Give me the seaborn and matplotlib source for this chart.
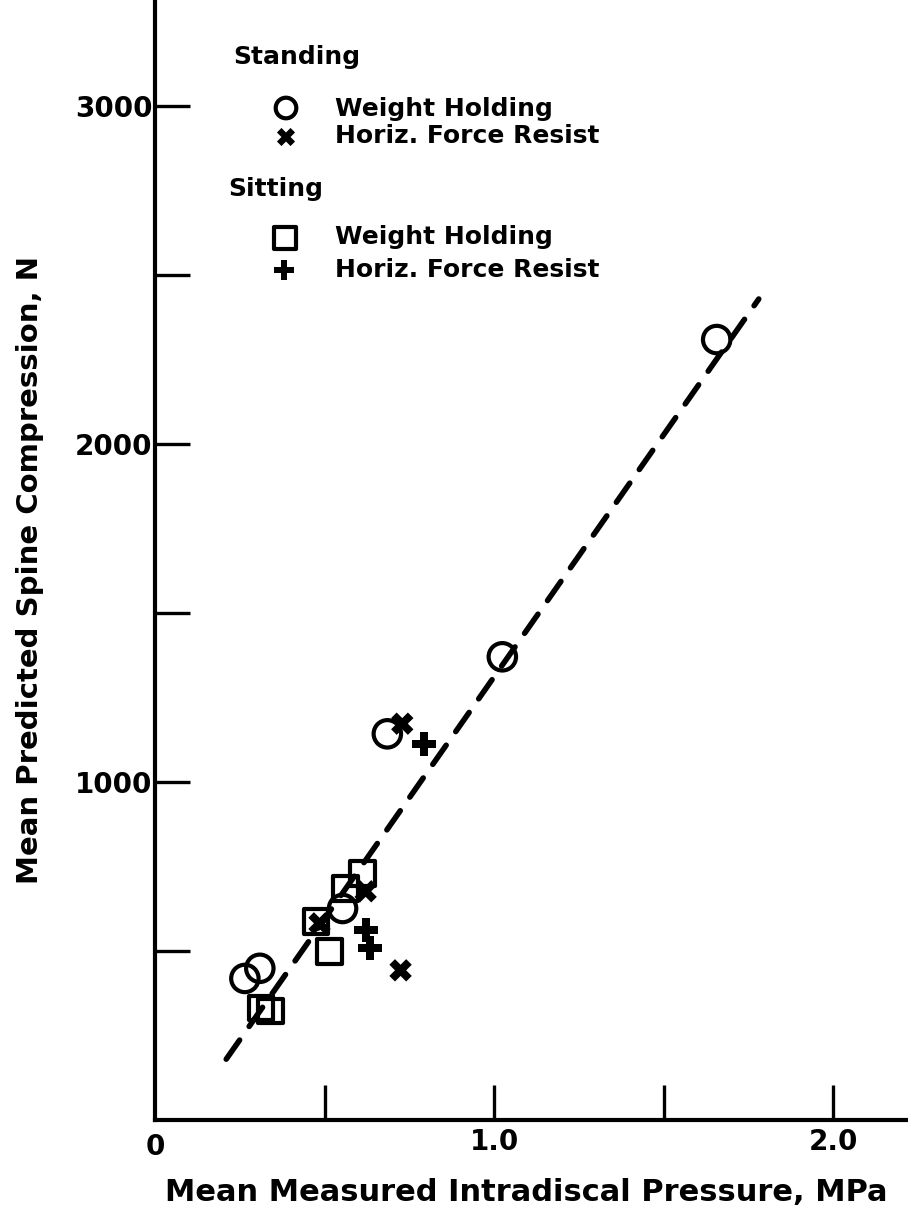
import matplotlib
matplotlib.use("Agg")
import matplotlib.pyplot as plt
import seaborn as sns
import pandas as pd

# standing, weight holding (circles)
stand_wh_x = [1.656, 1.024, 0.685, 0.553, 0.265, 0.309]
stand_wh_y = [2310, 1371, 1143, 626, 419, 449]

# standing, horizontal force resist (x)
stand_hf_x = [0.729, 0.621, 0.485, 0.724]
stand_hf_y = [1173, 677, 582, 443]

# sitting, weight holding (squares)
sit_wh_x = [0.612, 0.562, 0.474, 0.515, 0.312, 0.341]
sit_wh_y = [730, 685, 588, 499, 331, 322]

# sitting, horizontal force resist (+)
sit_hf_x = [0.794, 0.621, 0.635]
sit_hf_y = [1114, 561, 508]

# dashed fit line end points
fit_x = [0.21, 1.78]
fit_y = [180, 2430]

x_ticks = [0.5, 1.0, 1.5, 2.0]
x_labels = ["", "1.0", "", "2.0"]
y_ticks = [500, 1000, 1500, 2000, 2500, 3000]
y_labels = ["", "1000", "", "2000", "", "3000"]

sns.set_style("ticks")
plt.rcParams['font.family'] = ['DejaVu Sans']
plt.rcParams['font.weight'] = 'bold'
for key in ["text.color", "axes.labelcolor", "xtick.color", "ytick.color"]:
    plt.rcParams[key] = "black"

W, H = 908, 1214
fig = plt.figure(figsize=(W / 100, H / 100), dpi=100)
ax = fig.add_axes([155 / W, 94 / H, 753 / W, 1120 / H])

# fit line
sns.lineplot(x=fit_x, y=fit_y, ax=ax, color="black", lw=4,
             linestyle=(0, (4.2, 3.0)), zorder=1)
ax.lines[0].set_dash_capstyle("round")

groups = [
    (stand_wh_x, stand_wh_y, "o", dict(s=390, facecolor="none", edgecolor="black", linewidth=3.0)),
    (sit_wh_x, sit_wh_y, "s", dict(s=310, facecolor="none", edgecolor="black", linewidth=3.0)),
    (stand_hf_x, stand_hf_y, "X", dict(s=260, color="black", edgecolor="none")),
    (sit_hf_x, sit_hf_y, "P", dict(s=300, color="black", edgecolor="none")),
]
for gx, gy, mk, kw in groups:
    df = pd.DataFrame({"x": gx, "y": gy})
    sns.scatterplot(data=df, x="x", y="y", marker=mk, ax=ax, zorder=3,
                    clip_on=False, **kw)

ax.set_xlim(0, 2.22)
ax.set_ylim(0, 3315)
ax.set_xticks(x_ticks)
ax.set_xticklabels(x_labels)
ax.set_yticks(y_ticks)
ax.set_yticklabels(y_labels)
ax.tick_params(direction="in", length=25, width=2.4, labelsize=20, pad=3)
ax.tick_params(axis="y", pad=2)
ax.tick_params(axis="x", pad=6)
for sp in ["top", "right"]:
    ax.spines[sp].set_visible(False)
for sp in ["left", "bottom"]:
    ax.spines[sp].set_linewidth(3)
    ax.spines[sp].set_color("black")

# origin label
ax.text(0, -0.012, "0", transform=ax.get_xaxis_transform(), ha="center",
        va="top", fontsize=20, fontweight="bold")

ax.set_xlabel("Mean Measured Intradiscal Pressure, MPa", fontsize=22, fontweight="bold")
ax.set_ylabel("Mean Predicted Spine Compression, N", fontsize=21, fontweight="bold")
ax.xaxis.set_label_coords(0.493, -0.052)
ax.yaxis.set_label_coords(-0.148, 0.491)

# legend, drawn by hand
def fx(px):
    return px / W

def fy(py):
    return 1 - py / H

leg_font = dict(fontsize=18, fontweight="bold", va="center", ha="left")
fig.text(fx(233), fy(57), "Standing", **leg_font)
fig.text(fx(335), fy(109), "Weight Holding", **leg_font)
fig.text(fx(335), fy(136), "Horiz. Force Resist", **leg_font)
fig.text(fx(228), fy(189), "Sitting", **leg_font)
fig.text(fx(335), fy(237), "Weight Holding", **leg_font)
fig.text(fx(335), fy(270), "Horiz. Force Resist", **leg_font)

ax.scatter([fx(286)], [fy(108)], transform=fig.transFigure, marker="o", s=220,
           facecolor="none", edgecolor="black", linewidth=3.0, clip_on=False)
ax.scatter([fx(286)], [fy(137)], transform=fig.transFigure, marker="X", s=170,
           color="black", edgecolor="none", clip_on=False)
ax.scatter([fx(285)], [fy(238)], transform=fig.transFigure, marker="s", s=230,
           facecolor="none", edgecolor="black", linewidth=3.0, clip_on=False)
ax.scatter([fx(284)], [fy(270)], transform=fig.transFigure, marker="P", s=220,
           color="black", edgecolor="none", clip_on=False)

fig.savefig("out.png", dpi=100)
